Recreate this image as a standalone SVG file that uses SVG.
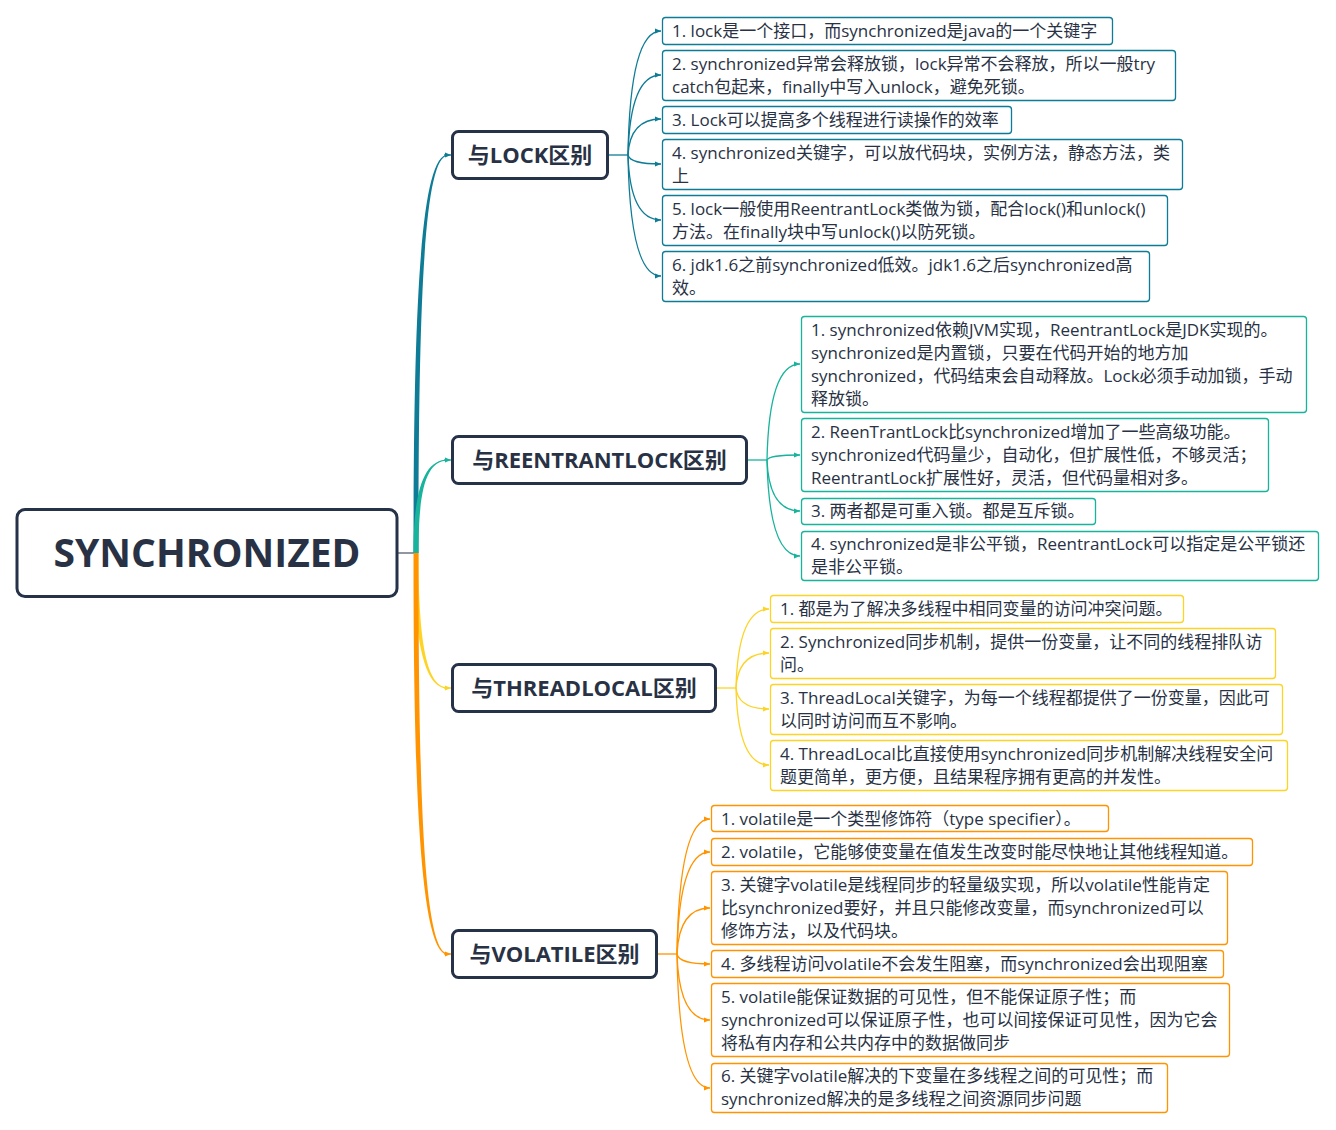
<svg xmlns="http://www.w3.org/2000/svg" width="1336" height="1130" viewBox="0 0 1336 1130">
<defs>
<style>
text{font-family:"Open Sans","Noto Sans CJK SC",sans-serif;fill:#283244}
.t{font-size:17px}
.b{font-size:22px;font-weight:bold;text-anchor:middle}
.r{font-size:39px;font-weight:bold;text-anchor:middle}
.main{fill:#fff;stroke:#253248;stroke-width:3}
.c{fill:#fff;stroke-width:1.3}
.k1{stroke:#0e7c96}.k2{stroke:#17b39b}.k3{stroke:#fcd426}.k4{stroke:#ff9400}
.l{fill:none;stroke-width:1.3}
.f1{fill:#0e7c96}.f2{fill:#17b39b}.f3{fill:#fcd426}.f4{fill:#ff9400}
</style>
<marker id="a1" viewBox="0 0 6 6" refX="6" refY="3" markerWidth="6" markerHeight="6" markerUnits="userSpaceOnUse" orient="auto"><path d="M0,0.5L6,3L0,5.5z" fill="#0e7c96"/></marker>
<marker id="a2" viewBox="0 0 6 6" refX="6" refY="3" markerWidth="6" markerHeight="6" markerUnits="userSpaceOnUse" orient="auto"><path d="M0,0.5L6,3L0,5.5z" fill="#17b39b"/></marker>
<marker id="a3" viewBox="0 0 6 6" refX="6" refY="3" markerWidth="6" markerHeight="6" markerUnits="userSpaceOnUse" orient="auto"><path d="M0,0.5L6,3L0,5.5z" fill="#fcd426"/></marker>
<marker id="a4" viewBox="0 0 6 6" refX="6" refY="3" markerWidth="6" markerHeight="6" markerUnits="userSpaceOnUse" orient="auto"><path d="M0,0.5L6,3L0,5.5z" fill="#ff9400"/></marker>
</defs>
<rect width="1336" height="1130" fill="#fff"/>
<g id="connectors">
<path d="M397,553H416" fill="none" stroke="#6b7585" stroke-width="1.5"/>
<path class="f1" d="M413.5,553C413.5,300 421,154.4 448,154.4L448,155.6C424,155.6 418.5,300 418.5,553Z"/>
<path d="M444,155H451" class="l k1" marker-end="url(#a1)"/>
<path class="f2" d="M413.5,553C413.5,490 424,459.4 448,459.4L448,460.6C426,460.6 418.5,490 418.5,553Z"/>
<path d="M444,460H451" class="l k2" marker-end="url(#a2)"/>
<path class="f3" d="M414,553C414,640 424,688.6 448,688.6L448,687.4C426,687.4 418.5,640 418.5,553Z"/>
<path d="M444,688H451" class="l k3" marker-end="url(#a3)"/>
<path class="f4" d="M413.5,553C413.5,800 421,954.6 448,954.6L448,953.4C424,953.4 418.5,800 418.5,553Z"/>
<path d="M444,954H451" class="l k4" marker-end="url(#a4)"/>

<g class="l k1">
<path d="M608,155H628"/>
<path d="M628,155Q630,31 661,31" marker-end="url(#a1)"/>
<path d="M628,155Q630,75 661,75" marker-end="url(#a1)"/>
<path d="M628,155Q630,119 661,119" marker-end="url(#a1)"/>
<path d="M628,155Q630,164 661,164" marker-end="url(#a1)"/>
<path d="M628,155Q630,220 661,220" marker-end="url(#a1)"/>
<path d="M628,155Q630,276 661,276" marker-end="url(#a1)"/>
</g>
<g class="l k2">
<path d="M747,460H767"/>
<path d="M767,460Q769,364 800,364" marker-end="url(#a2)"/>
<path d="M767,460Q769,455 800,455" marker-end="url(#a2)"/>
<path d="M767,460Q769,511 800,511" marker-end="url(#a2)"/>
<path d="M767,460Q769,556 800,556" marker-end="url(#a2)"/>
</g>
<g class="l k3">
<path d="M716,688H736"/>
<path d="M736,688Q738,609 769,609" marker-end="url(#a3)"/>
<path d="M736,688Q738,653 769,653" marker-end="url(#a3)"/>
<path d="M736,688Q738,709 769,709" marker-end="url(#a3)"/>
<path d="M736,688Q738,765 769,765" marker-end="url(#a3)"/>
</g>
<g class="l k4">
<path d="M657,954H677"/>
<path d="M677,954Q679,819 710,819" marker-end="url(#a4)"/>
<path d="M677,954Q679,852 710,852" marker-end="url(#a4)"/>
<path d="M677,954Q679,908 710,908" marker-end="url(#a4)"/>
<path d="M677,954Q679,964 710,964" marker-end="url(#a4)"/>
<path d="M677,954Q679,1020 710,1020" marker-end="url(#a4)"/>
<path d="M677,954Q679,1088 710,1088" marker-end="url(#a4)"/>
</g>
</g>

<g id="root"><rect class="main" x="17" y="509.5" width="380" height="87" rx="8"/><text class="r" x="207" y="567">SYNCHRONIZED</text></g>

<g id="b-lock"><rect class="main" x="452.5" y="131.5" width="155" height="47" rx="6"/><text class="b" x="530" y="163">与LOCK区别</text></g>
<g id="b-reentrant"><rect class="main" x="452.5" y="436.5" width="294" height="47" rx="6"/><text class="b" x="599.5" y="468">与REENTRANTLOCK区别</text></g>
<g id="b-threadlocal"><rect class="main" x="452.5" y="664.5" width="263" height="47" rx="6"/><text class="b" x="584" y="696">与THREADLOCAL区别</text></g>
<g id="b-volatile"><rect class="main" x="452.5" y="930.5" width="204" height="47" rx="6"/><text class="b" x="554.5" y="962">与VOLATILE区别</text></g>

<g id="lock1"><rect class="c k1" x="662.5" y="17.5" width="450" height="27" rx="3"/><text class="t" x="672" y="37">1. lock是一个接口，而synchronized是java的一个关键字</text></g>
<g id="lock2"><rect class="c k1" x="662.5" y="50.5" width="513" height="50" rx="3"/><text class="t" x="672" y="70">2. synchronized异常会释放锁，lock异常不会释放，所以一般try<tspan x="672" y="93">catch包起来，finally中写入unlock，避免死锁。</tspan></text></g>
<g id="lock3"><rect class="c k1" x="662.5" y="106.5" width="349" height="27" rx="3"/><text class="t" x="672" y="126">3. Lock可以提高多个线程进行读操作的效率</text></g>
<g id="lock4"><rect class="c k1" x="662.5" y="139.5" width="520" height="50" rx="3"/><text class="t" x="672" y="159">4. synchronized关键字，可以放代码块，实例方法，静态方法，类<tspan x="672" y="182">上</tspan></text></g>
<g id="lock5"><rect class="c k1" x="662.5" y="195.5" width="505" height="50" rx="3"/><text class="t" x="672" y="215">5. lock一般使用ReentrantLock类做为锁，配合lock()和unlock()<tspan x="672" y="238">方法。在finally块中写unlock()以防死锁。</tspan></text></g>
<g id="lock6"><rect class="c k1" x="662.5" y="251.5" width="487" height="50" rx="3"/><text class="t" x="672" y="271">6. jdk1.6之前synchronized低效。jdk1.6之后synchronized高<tspan x="672" y="294">效。</tspan></text></g>

<g id="re1"><rect class="c k2" x="801.5" y="316.5" width="505" height="96" rx="3"/><text class="t" x="811" y="336">1. synchronized依赖JVM实现，ReentrantLock是JDK实现的。<tspan x="811" y="359">synchronized是内置锁，只要在代码开始的地方加</tspan><tspan x="811" y="382">synchronized，代码结束会自动释放。Lock必须手动加锁，手动</tspan><tspan x="811" y="405">释放锁。</tspan></text></g>
<g id="re2"><rect class="c k2" x="801.5" y="418.5" width="467" height="73" rx="3"/><text class="t" x="811" y="438">2. ReenTrantLock比synchronized增加了一些高级功能。<tspan x="811" y="461">synchronized代码量少，自动化，但扩展性低，不够灵活；</tspan><tspan x="811" y="484">ReentrantLock扩展性好，灵活，但代码量相对多。</tspan></text></g>
<g id="re3"><rect class="c k2" x="801.5" y="498.5" width="294" height="26" rx="3"/><text class="t" x="811" y="517">3. 两者都是可重入锁。都是互斥锁。</text></g>
<g id="re4"><rect class="c k2" x="801.5" y="531.5" width="517" height="49" rx="3"/><text class="t" x="811" y="550">4. synchronized是非公平锁，ReentrantLock可以指定是公平锁还<tspan x="811" y="573">是非公平锁。</tspan></text></g>

<g id="tl1"><rect class="c k3" x="770.5" y="595.5" width="413" height="27" rx="3"/><text class="t" x="780" y="615">1. 都是为了解决多线程中相同变量的访问冲突问题。</text></g>
<g id="tl2"><rect class="c k3" x="770.5" y="628.5" width="505" height="50" rx="3"/><text class="t" x="780" y="648">2. Synchronized同步机制，提供一份变量，让不同的线程排队访<tspan x="780" y="671">问。</tspan></text></g>
<g id="tl3"><rect class="c k3" x="770.5" y="684.5" width="512" height="50" rx="3"/><text class="t" x="780" y="704">3. ThreadLocal关键字，为每一个线程都提供了一份变量，因此可<tspan x="780" y="727">以同时访问而互不影响。</tspan></text></g>
<g id="tl4"><rect class="c k3" x="770.5" y="740.5" width="517" height="50" rx="3"/><text class="t" x="780" y="760">4. ThreadLocal比直接使用synchronized同步机制解决线程安全问<tspan x="780" y="783">题更简单，更方便，且结果程序拥有更高的并发性。</tspan></text></g>

<g id="vo1"><rect class="c k4" x="711.5" y="805.5" width="397" height="26" rx="3"/><text class="t" x="721" y="825">1. volatile是一个类型修饰符（type specifier）。</text></g>
<g id="vo2"><rect class="c k4" x="711.5" y="838.5" width="541" height="27" rx="3"/><text class="t" x="721" y="858">2. volatile，它能够使变量在值发生改变时能尽快地让其他线程知道。</text></g>
<g id="vo3"><rect class="c k4" x="711.5" y="871.5" width="516" height="73" rx="3"/><text class="t" x="721" y="891">3. 关键字volatile是线程同步的轻量级实现，所以volatile性能肯定<tspan x="721" y="914">比synchronized要好，并且只能修改变量，而synchronized可以</tspan><tspan x="721" y="937">修饰方法，以及代码块。</tspan></text></g>
<g id="vo4"><rect class="c k4" x="711.5" y="950.5" width="512" height="27" rx="3"/><text class="t" x="721" y="970">4. 多线程访问volatile不会发生阻塞，而synchronized会出现阻塞</text></g>
<g id="vo5"><rect class="c k4" x="711.5" y="983.5" width="518" height="73" rx="3"/><text class="t" x="721" y="1003">5. volatile能保证数据的可见性，但不能保证原子性；而<tspan x="721" y="1026">synchronized可以保证原子性，也可以间接保证可见性，因为它会</tspan><tspan x="721" y="1049">将私有内存和公共内存中的数据做同步</tspan></text></g>
<g id="vo6"><rect class="c k4" x="711.5" y="1063.5" width="456" height="49" rx="3"/><text class="t" x="721" y="1082">6. 关键字volatile解决的下变量在多线程之间的可见性；而<tspan x="721" y="1105">synchronized解决的是多线程之间资源同步问题</tspan></text></g>
</svg>
